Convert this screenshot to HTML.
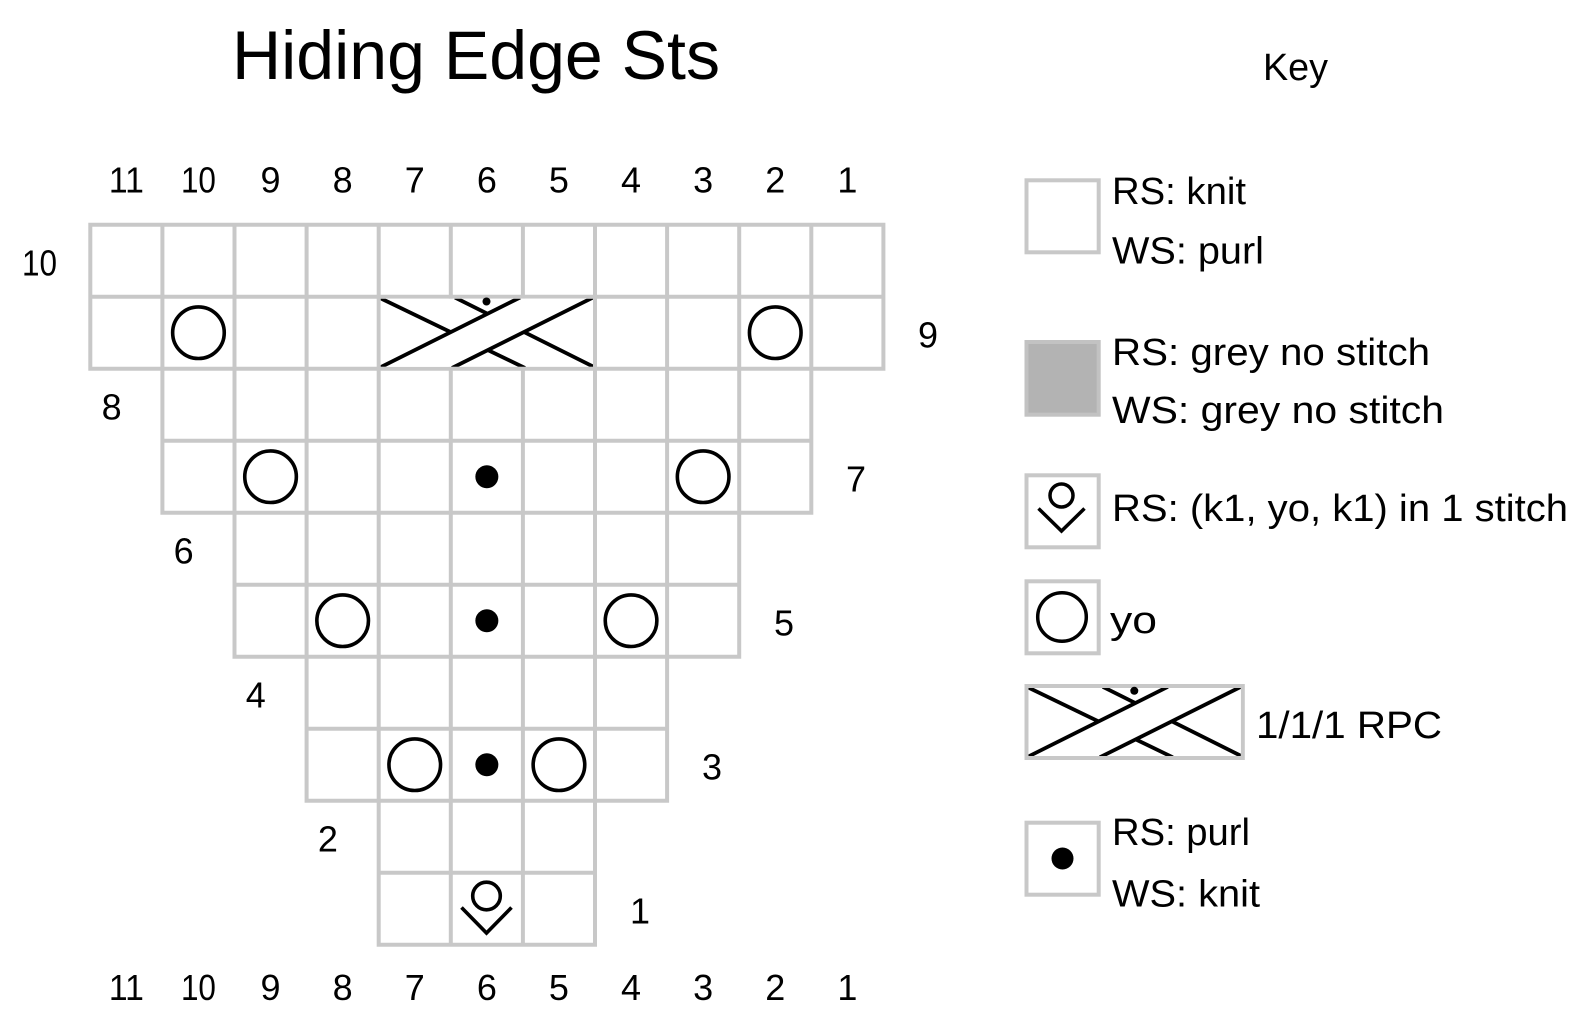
<!DOCTYPE html>
<html>
<head>
<meta charset="utf-8">
<style>
  html,body{margin:0;padding:0;background:#fff;}
  svg{display:block;}
  text{font-family:"Liberation Sans",sans-serif;fill:#000;}
</style>
</head>
<body>
<svg width="1590" height="1034" viewBox="0 0 1590 1034" xmlns="http://www.w3.org/2000/svg">
  <defs>
    <clipPath id="cclip"><rect x="380.7" y="298.7" width="212.3" height="68"/></clipPath>
    <g id="cable">
      <rect x="380.7" y="298.7" width="212.3" height="68" fill="#fff"/>
      <g clip-path="url(#cclip)" stroke="#000" stroke-width="3.8" fill="none">
        <line x1="379" y1="297.5" x2="525" y2="368"/>
        <line x1="455" y1="297.5" x2="596" y2="368"/>
        <polygon points="379,368 520,297 593,297 452,368" fill="#fff" stroke="none"/>
        <line x1="379" y1="368" x2="520" y2="297.5"/>
        <line x1="452" y1="368" x2="593" y2="297.5"/>
      </g>
      <circle cx="486.5" cy="301.5" r="4" fill="#000"/>
    </g>
  </defs>

  <!-- Title -->
  <text x="232" y="79" font-size="69" textLength="488" lengthAdjust="spacingAndGlyphs">Hiding Edge Sts</text>

  <!-- Grid -->
  <path fill="none" stroke="#c8c8c8" stroke-width="4" stroke-linecap="square" d="
    M90.3 224.7H883.4 M90.3 296.7H883.4 M90.3 368.7H883.4
    M162.4 440.7H811.3 M162.4 512.7H811.3
    M234.5 584.7H739.2 M234.5 656.7H739.2
    M306.6 728.7H667.1 M306.6 800.7H667.1
    M378.7 872.7H595 M378.7 944.7H595
    M90.3 224.7V368.7 M162.4 224.7V512.7 M234.5 224.7V656.7 M306.6 224.7V800.7
    M378.7 224.7V944.7 M450.8 224.7V944.7 M522.9 224.7V944.7 M595 224.7V944.7
    M667.1 224.7V800.7 M739.2 224.7V656.7 M811.3 224.7V512.7 M883.4 224.7V368.7"/>

  <!-- Cable in chart -->
  <use href="#cable"/>

  <!-- YO circles -->
  <g fill="none" stroke="#000" stroke-width="3.6">
    <circle cx="198.45" cy="332.7" r="25.8"/>
    <circle cx="775.25" cy="332.7" r="25.8"/>
    <circle cx="270.55" cy="476.7" r="25.8"/>
    <circle cx="703.15" cy="476.7" r="25.8"/>
    <circle cx="342.65" cy="620.7" r="25.8"/>
    <circle cx="631.05" cy="620.7" r="25.8"/>
    <circle cx="414.75" cy="764.7" r="25.8"/>
    <circle cx="558.95" cy="764.7" r="25.8"/>
    <!-- k1 yo k1 -->
    <circle cx="486.5" cy="896" r="13.8"/>
    <polyline points="461.5,907.5 486.5,933 511.5,907.5"/>
  </g>

  <!-- Purl dots -->
  <g fill="#000">
    <circle cx="486.85" cy="476.7" r="11.5"/>
    <circle cx="486.85" cy="620.7" r="11.5"/>
    <circle cx="486.85" cy="764.7" r="11.5"/>
  </g>

  <!-- Column numbers -->
  <g font-size="36" text-anchor="middle">
    <text x="126.35" y="192.7" textLength="35" lengthAdjust="spacingAndGlyphs">11</text>
    <text x="198.45" y="192.7" textLength="35" lengthAdjust="spacingAndGlyphs">10</text>
    <text x="270.55" y="192.7">9</text>
    <text x="342.65" y="192.7">8</text>
    <text x="414.75" y="192.7">7</text>
    <text x="486.85" y="192.7">6</text>
    <text x="558.95" y="192.7">5</text>
    <text x="631.05" y="192.7">4</text>
    <text x="703.15" y="192.7">3</text>
    <text x="775.25" y="192.7">2</text>
    <text x="847.35" y="192.7">1</text>

    <text x="126.35" y="1000" textLength="35" lengthAdjust="spacingAndGlyphs">11</text>
    <text x="198.45" y="1000" textLength="35" lengthAdjust="spacingAndGlyphs">10</text>
    <text x="270.55" y="1000">9</text>
    <text x="342.65" y="1000">8</text>
    <text x="414.75" y="1000">7</text>
    <text x="486.85" y="1000">6</text>
    <text x="558.95" y="1000">5</text>
    <text x="631.05" y="1000">4</text>
    <text x="703.15" y="1000">3</text>
    <text x="775.25" y="1000">2</text>
    <text x="847.35" y="1000">1</text>

    <!-- Row numbers -->
    <text x="39.5" y="275.7" textLength="35" lengthAdjust="spacingAndGlyphs">10</text>
    <text x="111.6" y="419.7">8</text>
    <text x="183.7" y="563.7">6</text>
    <text x="255.8" y="707.7">4</text>
    <text x="327.9" y="851.7">2</text>
    <text x="928" y="347.7">9</text>
    <text x="856" y="491.7">7</text>
    <text x="784" y="635.7">5</text>
    <text x="712" y="779.7">3</text>
    <text x="640" y="923.7">1</text>
  </g>

  <!-- Key -->
  <text x="1263" y="80" font-size="38" textLength="65" lengthAdjust="spacingAndGlyphs">Key</text>

  <g stroke="#c8c8c8" stroke-width="4">
    <rect x="1026.5" y="180.3" width="72.2" height="72" fill="#fff"/>
    <rect x="1026.5" y="342" width="72.2" height="72.7" fill="#b3b3b3" stroke="#c2c2c2"/>
    <rect x="1026.5" y="475.3" width="72.2" height="72" fill="#fff"/>
    <rect x="1026.5" y="581.3" width="72.2" height="72" fill="#fff"/>
    <rect x="1026.5" y="822.7" width="72.2" height="72" fill="#fff"/>
  </g>

  <!-- key k1yok1 symbol -->
  <g fill="none" stroke="#000" stroke-width="3.5">
    <circle cx="1061.5" cy="495.5" r="11.5"/>
    <polyline points="1038.5,508.5 1061.5,531 1084.5,508.5"/>
    <circle cx="1062" cy="617" r="24.3"/>
  </g>
  <circle cx="1062.5" cy="858.5" r="11" fill="#000"/>

  <!-- key cable -->
  <g transform="translate(647.8 389.3)">
    <rect x="378.7" y="296.7" width="216.3" height="72" fill="#fff" stroke="#c8c8c8" stroke-width="4"/>
    <use href="#cable"/>
  </g>

  <g font-size="38">
    <text x="1112" y="204" textLength="134" lengthAdjust="spacingAndGlyphs">RS: knit</text>
    <text x="1112" y="263.5" textLength="152" lengthAdjust="spacingAndGlyphs">WS: purl</text>
    <text x="1112" y="365" textLength="318" lengthAdjust="spacingAndGlyphs">RS: grey no stitch</text>
    <text x="1112" y="423" textLength="332" lengthAdjust="spacingAndGlyphs">WS: grey no stitch</text>
    <text x="1112" y="521" textLength="456" lengthAdjust="spacingAndGlyphs">RS: (k1, yo, k1) in 1 stitch</text>
    <text x="1110" y="633" textLength="47" lengthAdjust="spacingAndGlyphs">yo</text>
    <text x="1256" y="738" textLength="186" lengthAdjust="spacingAndGlyphs">1/1/1 RPC</text>
    <text x="1112" y="845" textLength="138" lengthAdjust="spacingAndGlyphs">RS: purl</text>
    <text x="1112" y="906.5" textLength="148" lengthAdjust="spacingAndGlyphs">WS: knit</text>
  </g>
</svg>
</body>
</html>
